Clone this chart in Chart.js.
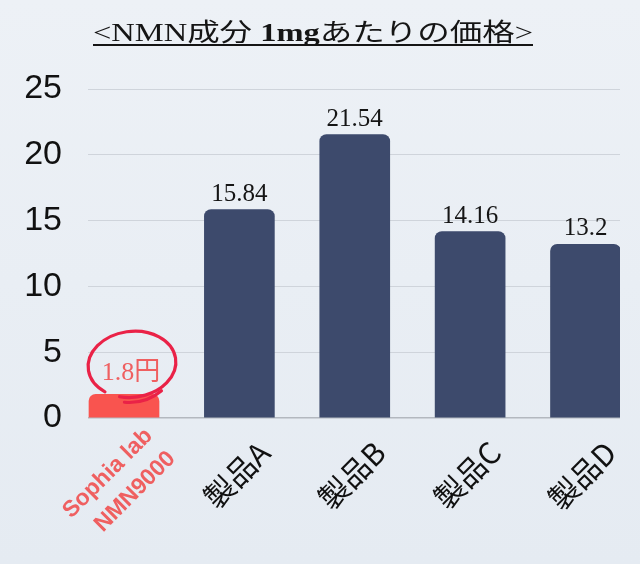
<!DOCTYPE html>
<html>
<head>
<meta charset="utf-8">
<script src="https://cdn.jsdelivr.net/npm/chart.js@4.4.1/dist/chart.umd.min.js"></script>
<style>
  html, body { margin: 0; padding: 0; background: #e9eef4; }
  #wrap { width: 640px; height: 564px; position: relative; }
</style>
</head>
<body>
<div id="wrap"><canvas id="c"></canvas></div>
<script>
// ---- data ----
const categories = [["Sophia lab", "NMN9000"], "製品A", "製品B", "製品C", "製品D"];
const prices = [1.8, 15.84, 21.54, 14.16, 13.2];
const yTicks = [0, 5, 10, 15, 20, 25];
const unitSuffix = "円";
const titleParts = [
  { text: "<NMN成分 ", bold: false },
  { text: "1mg", bold: true },
  { text: "あたりの価格>", bold: false }
];

// ---- styles ----
const RED = "#f9544f";
const RED_TEXT = "#ef5f60";
const NAVY = "#3d4a6c";
const SERIF = '"Liberation Serif", "Noto Sans CJK JP", serif';

const bgPlugin = {
  id: "bg",
  beforeDraw(chart) {
    const { ctx, width, height } = chart;
    ctx.save();
    const g = ctx.createLinearGradient(0, 0, 0, height);
    g.addColorStop(0, "#edf1f6");
    g.addColorStop(1, "#e5ebf2");
    ctx.fillStyle = g;
    ctx.fillRect(0, 0, width, height);
    ctx.restore();
  }
};

const titlePlugin = {
  id: "stretchedTitle",
  afterDraw(chart) {
    const ctx = chart.ctx;
    const size = 25;
    const targetWidth = 440;
    const centerX = 313;
    const baseline = 41;
    ctx.save();
    let total = 0;
    const widths = titleParts.map(p => {
      ctx.font = (p.bold ? "bold " : "") + size + "px " + SERIF;
      const w = ctx.measureText(p.text).width;
      total += w;
      return w;
    });
    const sx = targetWidth / total;
    ctx.translate(centerX - targetWidth / 2, baseline);
    ctx.scale(sx, 1);
    ctx.fillStyle = "#151515";
    ctx.textBaseline = "alphabetic";
    let x = 0;
    titleParts.forEach((p, i) => {
      ctx.font = (p.bold ? "bold " : "") + size + "px " + SERIF;
      ctx.fillText(p.text, x, 0);
      x += widths[i];
    });
    ctx.fillRect(0, 3, total, 2);
    ctx.restore();
  }
};

const labelPlugin = {
  id: "valueLabels",
  afterDatasetsDraw(chart) {
    const ctx = chart.ctx;
    const meta = chart.getDatasetMeta(0);
    ctx.save();
    ctx.textAlign = "center";
    ctx.textBaseline = "bottom";
    meta.data.forEach((el, i) => {
      if (i === 0) {
        ctx.font = "26px " + SERIF;
        ctx.fillStyle = RED_TEXT;
        ctx.fillText(prices[i] + unitSuffix, el.x + 7, el.y - 8);
        // hand-drawn ellipse around the highlighted value
        const cx = el.x + 8, cy = el.y - 30;
        ctx.strokeStyle = "#ea2247";
        ctx.lineWidth = 3.2;
        ctx.lineCap = "round";
        ctx.beginPath();
        ctx.ellipse(cx, cy, 44, 33, -0.12, 0.74 * Math.PI, 2.62 * Math.PI);
        ctx.stroke();
        ctx.beginPath();
        ctx.ellipse(cx - 1, cy + 3, 43, 35, -0.12, 0.28 * Math.PI, 0.58 * Math.PI);
        ctx.stroke();
      } else {
        ctx.font = "25px " + SERIF;
        ctx.fillStyle = "#151515";
        ctx.fillText(String(prices[i]), el.x, el.y - 3);
      }
    });
    ctx.restore();
  }
};

new Chart(document.getElementById("c"), {
  type: "bar",
  data: {
    datasets: [{
      data: prices.map((v, i) => ({ x: i, y: v })),
      backgroundColor: prices.map((_, i) => i === 0 ? RED : NAVY),
      borderRadius: 7,
      borderSkipped: "start",
      barThickness: 70
    }]
  },
  options: {
    responsive: true,
    maintainAspectRatio: false,
    animation: false,
    layout: { padding: { top: 89, right: 20, left: 0, bottom: 0 } },
    plugins: { legend: { display: false }, tooltip: { enabled: false }, title: { display: false } },
    scales: {
      x: {
        type: "linear",
        offset: false,
        min: -0.312,
        max: 4.299,
        grid: { display: false, drawTicks: false, offset: false },
        border: { display: false },
        afterBuildTicks: s => { s.ticks = categories.map((_, i) => ({ value: i })); },
        afterFit: s => { s.height = 146; s.paddingLeft = 0; s.paddingRight = 0; },
        ticks: {
          autoSkip: false,
          minRotation: 45,
          maxRotation: 45,
          padding: 3,
          labelOffset: c => c.index === 0 ? 55 : 25,
          callback: v => categories[v],
          color: c => c.index === 0 ? RED_TEXT : "#111",
          font: c => c.index === 0
            ? { family: '"Liberation Sans", Arial, sans-serif', size: 23, weight: "bold", lineHeight: 1.4 }
            : { family: '"Noto Sans CJK JP", sans-serif', size: 30, weight: "normal", lineHeight: 2.45 }
        }
      },
      y: {
        min: 0,
        max: 25,
        afterBuildTicks: s => { s.ticks = yTicks.map(v => ({ value: v })); },
        afterFit: s => { s.width = 88; },
        grid: {
          drawTicks: false,
          color: c => c.tick && c.tick.value === 0 ? "#b3b8bf" : "#cfd4db",
          lineWidth: c => c.tick && c.tick.value === 0 ? 1.5 : 1
        },
        border: { display: false },
        ticks: {
          padding: 26,
          color: "#111",
          font: { family: '"Liberation Sans", Arial, sans-serif', size: 34 }
        }
      }
    }
  },
  plugins: [bgPlugin, labelPlugin, titlePlugin]
});
</script>
</body>
</html>
